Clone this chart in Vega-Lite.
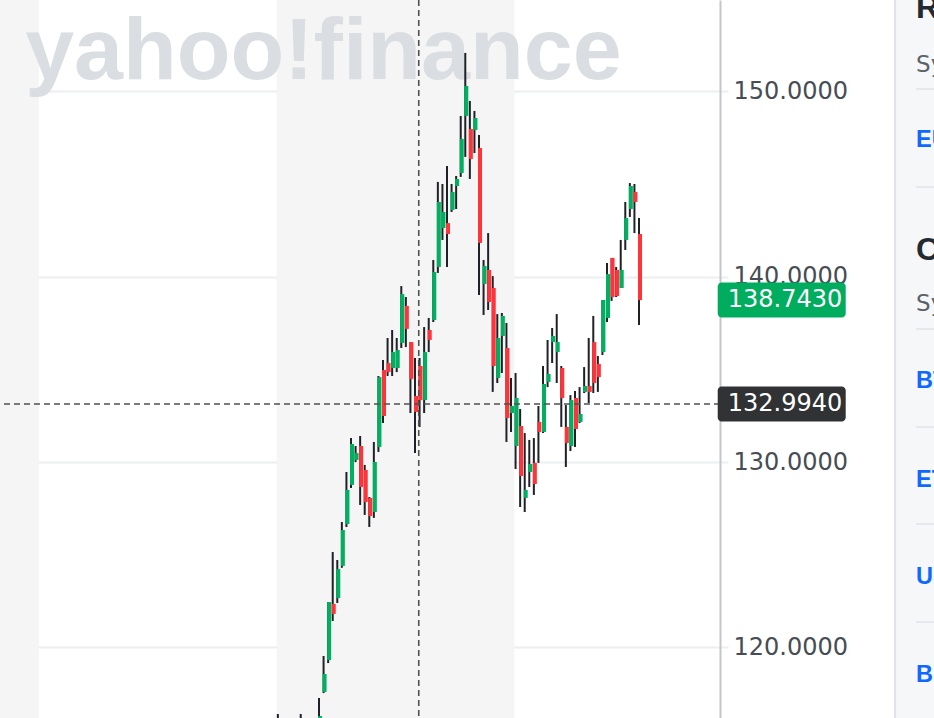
{
  "$schema": "https://vega.github.io/schema/vega-lite/v6.json",
  "width": 720,
  "height": 718,
  "autosize": {"type": "none"},
  "padding": {"left": 0, "top": 0, "right": 214, "bottom": 0},
  "background": "#ffffff",
  "config": {
    "view": {"stroke": null},
    "font": "DejaVu Sans",
    "axisY": {"orient": "right", "format": ".4f", "title": null, "grid": true, "gridColor": "#eceef0", "gridWidth": 2, "domainColor": "#c3c6cb", "domainWidth": 2, "tickColor": "#eceef0", "tickSize": 8, "tickWidth": 2, "labelFont": "DejaVu Sans", "labelFontSize": 24, "labelColor": "#474d54", "labelPadding": 5, "labelFlush": false, "labelOverlap": false}
  },
  "datasets": {
    "bands": [{"start": -70, "end": -61.5}, {"start": -9.5, "end": 42.5}],
    "watermark": [{"t": "yahoo!finance"}],
    "candles": [
      {"k": -9, "o": 116.0, "h": 116.41, "l": 115.4, "c": 115.8},
      {"k": -4, "o": 115.9, "h": 116.41, "l": 115.6, "c": 116.1},
      {"k": 0, "o": 115.9, "h": 117.27, "l": 115.6, "c": 116.3},
      {"k": 1, "o": 117.60, "h": 119.54, "l": 117.54, "c": 118.57},
      {"k": 2, "o": 119.32, "h": 122.45, "l": 119.16, "c": 122.45},
      {"k": 3, "o": 122.35, "h": 125.15, "l": 121.43, "c": 121.81},
      {"k": 4, "o": 122.67, "h": 124.72, "l": 122.40, "c": 124.24},
      {"k": 5, "o": 124.40, "h": 126.77, "l": 124.30, "c": 126.34},
      {"k": 6, "o": 126.66, "h": 129.47, "l": 126.50, "c": 128.50},
      {"k": 7, "o": 128.77, "h": 131.30, "l": 128.61, "c": 130.98},
      {"k": 8, "o": 130.12, "h": 130.87, "l": 130.00, "c": 130.49},
      {"k": 9, "o": 130.87, "h": 131.41, "l": 127.69, "c": 128.66},
      {"k": 10, "o": 129.58, "h": 129.85, "l": 127.15, "c": 127.85},
      {"k": 11, "o": 128.07, "h": 128.12, "l": 126.50, "c": 127.09},
      {"k": 12, "o": 127.31, "h": 131.09, "l": 126.99, "c": 130.01},
      {"k": 13, "o": 130.82, "h": 134.65, "l": 130.55, "c": 134.59},
      {"k": 14, "o": 134.97, "h": 135.51, "l": 132.11, "c": 132.49},
      {"k": 15, "o": 135.35, "h": 136.70, "l": 134.65, "c": 134.86},
      {"k": 16, "o": 135.08, "h": 137.13, "l": 134.65, "c": 135.94},
      {"k": 17, "o": 135.08, "h": 136.70, "l": 134.86, "c": 136.05},
      {"k": 18, "o": 136.43, "h": 139.50, "l": 136.16, "c": 139.07},
      {"k": 19, "o": 138.43, "h": 138.91, "l": 136.21, "c": 137.19},
      {"k": 20, "o": 136.48, "h": 136.48, "l": 132.65, "c": 134.49},
      {"k": 21, "o": 133.57, "h": 135.62, "l": 130.49, "c": 132.71},
      {"k": 22, "o": 135.19, "h": 135.62, "l": 131.90, "c": 133.35},
      {"k": 23, "o": 133.35, "h": 137.29, "l": 132.65, "c": 135.94},
      {"k": 24, "o": 137.13, "h": 137.78, "l": 135.94, "c": 136.59},
      {"k": 25, "o": 137.67, "h": 140.91, "l": 137.56, "c": 140.26},
      {"k": 26, "o": 140.53, "h": 145.12, "l": 140.21, "c": 144.04},
      {"k": 27, "o": 142.63, "h": 145.01, "l": 141.99, "c": 143.50},
      {"k": 28, "o": 142.90, "h": 145.98, "l": 140.53, "c": 142.31},
      {"k": 29, "o": 143.61, "h": 145.01, "l": 143.50, "c": 144.58},
      {"k": 30, "o": 144.90, "h": 145.44, "l": 143.66, "c": 145.28},
      {"k": 31, "o": 145.60, "h": 148.68, "l": 145.39, "c": 147.44},
      {"k": 32, "o": 148.68, "h": 152.08, "l": 146.47, "c": 150.30},
      {"k": 33, "o": 147.98, "h": 149.49, "l": 145.28, "c": 146.36},
      {"k": 34, "o": 147.92, "h": 148.95, "l": 146.68, "c": 148.57},
      {"k": 35, "o": 146.95, "h": 147.65, "l": 139.02, "c": 141.83},
      {"k": 36, "o": 139.61, "h": 140.91, "l": 137.94, "c": 140.58},
      {"k": 37, "o": 140.37, "h": 142.36, "l": 138.21, "c": 138.64},
      {"k": 38, "o": 139.40, "h": 140.04, "l": 133.79, "c": 135.19},
      {"k": 39, "o": 134.54, "h": 137.99, "l": 134.27, "c": 136.70},
      {"k": 40, "o": 136.81, "h": 138.05, "l": 134.81, "c": 137.89},
      {"k": 41, "o": 136.16, "h": 137.51, "l": 131.09, "c": 132.38},
      {"k": 42, "o": 132.65, "h": 134.54, "l": 131.63, "c": 133.03},
      {"k": 43, "o": 130.87, "h": 134.81, "l": 129.63, "c": 133.46},
      {"k": 44, "o": 131.95, "h": 132.87, "l": 127.58, "c": 129.25},
      {"k": 45, "o": 128.07, "h": 131.57, "l": 127.31, "c": 128.50},
      {"k": 46, "o": 129.47, "h": 131.20, "l": 128.66, "c": 129.90},
      {"k": 47, "o": 129.96, "h": 131.30, "l": 128.23, "c": 128.82},
      {"k": 48, "o": 132.17, "h": 133.03, "l": 129.96, "c": 131.63},
      {"k": 49, "o": 131.63, "h": 135.19, "l": 131.57, "c": 134.22},
      {"k": 50, "o": 134.33, "h": 136.59, "l": 134.05, "c": 134.76},
      {"k": 51, "o": 136.48, "h": 137.24, "l": 135.35, "c": 136.81},
      {"k": 52, "o": 135.94, "h": 137.99, "l": 134.27, "c": 136.48},
      {"k": 53, "o": 135.08, "h": 135.19, "l": 131.90, "c": 133.46},
      {"k": 54, "o": 131.90, "h": 133.08, "l": 129.74, "c": 131.03},
      {"k": 55, "o": 130.87, "h": 133.62, "l": 130.60, "c": 133.35},
      {"k": 56, "o": 133.46, "h": 133.84, "l": 130.82, "c": 131.79},
      {"k": 57, "o": 132.17, "h": 134.05, "l": 132.11, "c": 132.60},
      {"k": 58, "o": 133.79, "h": 135.13, "l": 133.73, "c": 134.11},
      {"k": 59, "o": 134.11, "h": 136.70, "l": 133.19, "c": 133.79},
      {"k": 60, "o": 136.48, "h": 137.89, "l": 133.73, "c": 134.27},
      {"k": 61, "o": 135.30, "h": 135.73, "l": 133.79, "c": 134.59},
      {"k": 62, "o": 135.94, "h": 138.75, "l": 135.78, "c": 138.75},
      {"k": 63, "o": 137.78, "h": 140.75, "l": 137.56, "c": 140.15},
      {"k": 64, "o": 141.02, "h": 141.02, "l": 138.70, "c": 138.91},
      {"k": 65, "o": 140.37, "h": 140.53, "l": 138.91, "c": 138.96},
      {"k": 66, "o": 139.40, "h": 141.99, "l": 139.40, "c": 140.37},
      {"k": 67, "o": 141.99, "h": 144.04, "l": 141.45, "c": 143.17},
      {"k": 68, "o": 143.66, "h": 145.06, "l": 143.23, "c": 144.90},
      {"k": 69, "o": 144.58, "h": 145.01, "l": 142.36, "c": 144.04},
      {"k": 70, "o": 142.31, "h": 143.17, "l": 137.40, "c": 138.743}
    ],
    "prices": [
      {"price": 138.743, "label": "138.7430", "kind": "Last"},
      {"price": 133.14, "label": "132.9940", "kind": "Crosshair"}
    ],
    "sidebar": [
      {"t": "Recently Viewed", "pos": 153.966, "kind": "head"},
      {"t": "Symbol", "pos": 151.052, "kind": "sub"},
      {"t": "EURJPY=X", "pos": 147.005, "kind": "link"},
      {"t": "Cryptocurrencies", "pos": 140.908, "kind": "head"},
      {"t": "Symbol", "pos": 138.156, "kind": "sub"},
      {"t": "BTC-USD", "pos": 134.001, "kind": "link"},
      {"t": "ETH-USD", "pos": 128.659, "kind": "link"},
      {"t": "USDT-USD", "pos": 123.425, "kind": "link"},
      {"t": "BNB-USD", "pos": 118.138, "kind": "link"}
    ],
    "seps": [
      {"pos": 150.135}, {"pos": 144.847}, {"pos": 137.185},
      {"pos": 131.897}, {"pos": 126.663}, {"pos": 121.375}
    ]
  },
  "layer": [
    {
      "data": {"name": "bands"},
      "mark": {"type": "rect", "color": "#f5f5f5"},
      "encoding": {
        "x": {"field": "start", "type": "quantitative", "scale": {"domain": [-70, 87.5], "nice": false, "zero": false, "padding": 0}, "axis": null},
        "x2": {"field": "end"}
      }
    },
    {
      "data": {"name": "watermark"},
      "mark": {"type": "text", "font": "Liberation Sans", "fontWeight": "bold", "fontSize": 88, "align": "left", "baseline": "alphabetic", "color": "#dadde2"},
      "encoding": {
        "x": {"datum": -64.5, "type": "quantitative", "scale": {"domain": [-70, 87.5], "nice": false, "zero": false, "padding": 0}, "axis": null},
        "y": {"datum": 150.7, "type": "quantitative", "scale": {"domain": [116.195, 154.937], "nice": false, "zero": false, "padding": 0}, "axis": {"values": [120, 130, 140, 150]}},
        "text": {"field": "t"}
      }
    },
    {
      "data": {"name": "candles"},
      "mark": {"type": "rule", "color": "#1e2227", "strokeWidth": 2, "xOffset": -1, "clip": true},
      "encoding": {
        "x": {"field": "k", "type": "quantitative", "scale": {"domain": [-70, 87.5], "nice": false, "zero": false, "padding": 0}, "axis": null},
        "y": {"field": "l", "type": "quantitative", "scale": {"domain": [116.195, 154.937], "nice": false, "zero": false, "padding": 0}, "axis": {"values": [120, 130, 140, 150]}},
        "y2": {"field": "h"}
      }
    },
    {
      "data": {"name": "candles"},
      "mark": {"type": "bar", "size": 4, "clip": true},
      "encoding": {
        "x": {"field": "k", "type": "quantitative", "scale": {"domain": [-70, 87.5], "nice": false, "zero": false, "padding": 0}, "axis": null},
        "y": {"field": "o", "type": "quantitative", "scale": {"domain": [116.195, 154.937], "nice": false, "zero": false, "padding": 0}, "axis": {"values": [120, 130, 140, 150]}},
        "y2": {"field": "c"},
        "color": {"condition": {"test": "datum.c >= datum.o", "value": "#00b061"}, "value": "#ff333a"}
      }
    },
    {
      "data": {"values": [{}]},
      "mark": {"type": "rule", "color": "#505050", "strokeWidth": 1.6, "strokeDash": [6, 4]},
      "encoding": {
        "x": {"datum": 21.6, "type": "quantitative", "scale": {"domain": [-70, 87.5], "nice": false, "zero": false, "padding": 0}, "axis": null}
      }
    },
    {
      "data": {"values": [{}]},
      "mark": {"type": "rule", "color": "#505050", "strokeWidth": 1.6, "strokeDash": [6, 4]},
      "encoding": {
        "y": {"datum": 133.14, "type": "quantitative", "scale": {"domain": [116.195, 154.937], "nice": false, "zero": false, "padding": 0}, "axis": {"values": [120, 130, 140, 150]}}
      }
    },
    {
      "data": {"name": "prices"},
      "mark": {"type": "bar", "size": 35, "cornerRadius": 4, "orient": "horizontal"},
      "encoding": {
        "x": {"datum": 87, "type": "quantitative", "scale": {"domain": [-70, 87.5], "nice": false, "zero": false, "padding": 0}, "axis": null},
        "x2": {"datum": 115},
        "y": {"field": "price", "type": "quantitative", "scale": {"domain": [116.195, 154.937], "nice": false, "zero": false, "padding": 0}, "axis": {"values": [120, 130, 140, 150]}},
        "color": {"field": "kind", "type": "nominal", "scale": {"domain": ["Last", "Crosshair"], "range": ["#00ad5f", "#303234"]}, "legend": null}
      }
    },
    {
      "data": {"name": "prices"},
      "mark": {"type": "text", "font": "DejaVu Sans", "fontSize": 24, "align": "left", "baseline": "middle", "color": "#ffffff"},
      "encoding": {
        "x": {"datum": 89.2, "type": "quantitative", "scale": {"domain": [-70, 87.5], "nice": false, "zero": false, "padding": 0}, "axis": null},
        "y": {"field": "price", "type": "quantitative", "scale": {"domain": [116.195, 154.937], "nice": false, "zero": false, "padding": 0}, "axis": {"values": [120, 130, 140, 150]}},
        "text": {"field": "label"}
      }
    },
    {
      "data": {"values": [{}]},
      "mark": {"type": "rect", "color": "#f6f7f9"},
      "encoding": {
        "x": {"datum": 125.8, "type": "quantitative", "scale": {"domain": [-70, 87.5], "nice": false, "zero": false, "padding": 0}, "axis": null},
        "x2": {"datum": 140}
      }
    },
    {
      "data": {"values": [{}]},
      "mark": {"type": "rule", "color": "#e0e3e8", "strokeWidth": 2},
      "encoding": {
        "x": {"datum": 125.8, "type": "quantitative", "scale": {"domain": [-70, 87.5], "nice": false, "zero": false, "padding": 0}, "axis": null}
      }
    },
    {
      "data": {"name": "seps"},
      "mark": {"type": "rule", "color": "#e0e3e8", "strokeWidth": 1.5},
      "encoding": {
        "x": {"datum": 130.4, "type": "quantitative", "scale": {"domain": [-70, 87.5], "nice": false, "zero": false, "padding": 0}, "axis": null},
        "x2": {"datum": 140},
        "y": {"field": "pos", "type": "quantitative", "scale": {"domain": [116.195, 154.937], "nice": false, "zero": false, "padding": 0}, "axis": {"values": [120, 130, 140, 150]}}
      }
    },
    {
      "data": {"name": "sidebar"},
      "transform": [{"filter": "datum.kind === 'head'"}],
      "mark": {"type": "text", "font": "Liberation Sans", "fontWeight": "bold", "fontSize": 32, "align": "left", "baseline": "alphabetic", "color": "#232a31"},
      "encoding": {
        "x": {"datum": 130.4, "type": "quantitative", "scale": {"domain": [-70, 87.5], "nice": false, "zero": false, "padding": 0}, "axis": null},
        "y": {"field": "pos", "type": "quantitative", "scale": {"domain": [116.195, 154.937], "nice": false, "zero": false, "padding": 0}, "axis": {"values": [120, 130, 140, 150]}},
        "text": {"field": "t"}
      }
    },
    {
      "data": {"name": "sidebar"},
      "transform": [{"filter": "datum.kind === 'sub'"}],
      "mark": {"type": "text", "font": "DejaVu Sans", "fontSize": 23, "align": "left", "baseline": "alphabetic", "color": "#5b636a"},
      "encoding": {
        "x": {"datum": 130.4, "type": "quantitative", "scale": {"domain": [-70, 87.5], "nice": false, "zero": false, "padding": 0}, "axis": null},
        "y": {"field": "pos", "type": "quantitative", "scale": {"domain": [116.195, 154.937], "nice": false, "zero": false, "padding": 0}, "axis": {"values": [120, 130, 140, 150]}},
        "text": {"field": "t"}
      }
    },
    {
      "data": {"name": "sidebar"},
      "transform": [{"filter": "datum.kind === 'link'"}],
      "mark": {"type": "text", "font": "Liberation Sans", "fontWeight": "bold", "fontSize": 23.5, "align": "left", "baseline": "alphabetic", "color": "#0f69ff"},
      "encoding": {
        "x": {"datum": 130.4, "type": "quantitative", "scale": {"domain": [-70, 87.5], "nice": false, "zero": false, "padding": 0}, "axis": null},
        "y": {"field": "pos", "type": "quantitative", "scale": {"domain": [116.195, 154.937], "nice": false, "zero": false, "padding": 0}, "axis": {"values": [120, 130, 140, 150]}},
        "text": {"field": "t"}
      }
    }
  ]
}
